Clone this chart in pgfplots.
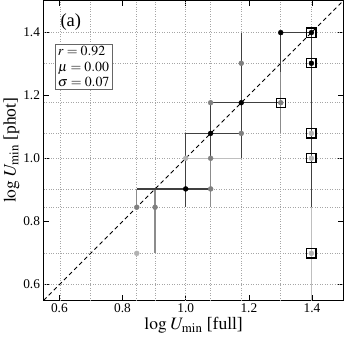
\documentclass[border=0pt]{standalone}
\usepackage{mathptmx}
\usepackage[no-math]{fontspec}
\setmainfont{Liberation Serif}
\usepackage{pgfplots}
\pgfplotsset{compat=1.18}

% grid values: log10 of 4,5,7,8,10,12,15,20,25
\pgfplotsset{
  umin pts/.style={
    only marks, mark=*, mark size=2.4pt,
    error bars/.cd, x dir=both, x explicit, y dir=both, y explicit,
    error mark=none,
    /pgfplots/.cd,
  },
}

\begin{document}
\begin{tikzpicture}
\begin{axis}[
  scale only axis, width=292pt, height=292pt,
  xmin=0.55, xmax=1.5, ymin=0.55, ymax=1.5,
  xtick={0.6,0.8,1.0,1.2,1.4}, ytick={0.6,0.8,1.0,1.2,1.4},
  /pgf/number format/.cd, fixed, fixed zerofill, precision=1, assume math mode=true,
  /pgfplots/.cd,
  tick align=inside, major tick length=5pt,
  tick style={black, line width=0.7pt},
  axis line style={line width=0.8pt},
  ticklabel style={font=\fontsize{13}{14}\selectfont},
  extra x ticks={0.602,0.699,0.845,0.903,1.0,1.079,1.176,1.301,1.398},
  extra y ticks={0.602,0.699,0.845,0.903,1.0,1.079,1.176,1.301,1.398},
  extra tick style={major tick length=0pt, xticklabel={}, yticklabel={}, grid=major,
    major grid style={black!35, dotted, line width=0.7pt}},
  xlabel={$\log\,U_{\min}$ [full]},
  ylabel={$\log\,U_{\min}$ [phot]},
  label style={font=\fontsize{17}{18}\selectfont},
  xlabel style={yshift=3pt},
  ylabel style={yshift=-3pt},
  clip=false,
]
% one-to-one line
\addplot[black, line width=0.8pt, dash pattern=on 4pt off 3pt] coordinates {(0.55,0.55) (1.5,1.5)};

% light points
\addplot[umin pts, black!30, error bars/error bar style={black!25, line width=1.3pt}]
  table[x=x, y=y, x error minus=xm, x error plus=xp, y error minus=ym, y error plus=yp] {
x     y     xm    xp    ym    yp
0.845 0.699 0     0     0     0
1.000 1.000 0     0.176 0.097 0.079
1.398 1.079 0     0     0.234 0
1.398 1.000 0     0     0.398 0
1.398 0.699 0     0     0.149 0.699
};

% medium points
\addplot[umin pts, black!50, error bars/error bar style={black!45, line width=1.3pt}]
  table[x=x, y=y, x error minus=xm, x error plus=xp, y error minus=ym, y error plus=yp] {
x     y     xm    xp    ym    yp
0.845 0.845 0     0     0     0.058
0.903 0.845 0     0     0.146 0.058
1.079 0.903 0     0     0.058 0.097
1.079 1.000 0     0     0.155 0.176
1.079 1.176 0     0.222 0     0
1.176 1.079 0     0     0.079 0
1.176 1.301 0     0     0     0.097
1.301 1.176 0     0     0.097 0.222
};

% dark points
\addplot[umin pts, black, error bars/error bar style={black!75, line width=1.3pt}]
  table[x=x, y=y, x error minus=xm, x error plus=xp, y error minus=ym, y error plus=yp] {
x     y     xm    xp    ym    yp
1.000 0.903 0.155 0.079 0.058 0.176
1.079 1.079 0.079 0.097 0.079 0.097
1.176 1.176 0.097 0.125 0.176 0.222
1.301 1.398 0     0.097 0.125 0
1.398 1.398 0.097 0     0     0
1.398 1.301 0     0     0.456 0.097
};

% boxed points
\addplot[only marks, mark=square, mark size=4.5pt, black, mark options={line width=1.1pt}] coordinates {
(1.398,1.398) (1.398,1.301) (1.398,1.079) (1.398,1.000) (1.398,0.699) (1.301,1.176)
};

\node[draw=black!60, line width=0.8pt, fill=white, align=left, anchor=north west,
  inner sep=2.5pt, font=\fontsize{13.5}{15}\selectfont]
  at (axis cs:0.586,1.363) {$r=0.92$\\$\mu=0.00$\\$\sigma=0.07$};
\node[font=\fontsize{18}{20}\selectfont] at (axis cs:0.636,1.432) {(a)};
\end{axis}
\end{tikzpicture}
\end{document}
